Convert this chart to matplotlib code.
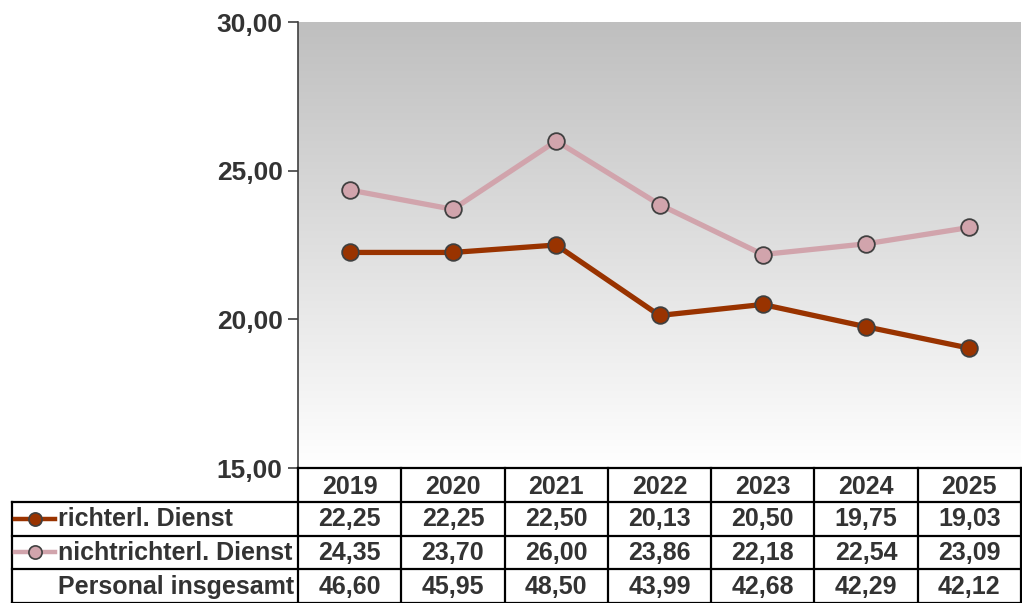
import numpy as np
import matplotlib
matplotlib.use("Agg")
import matplotlib.pyplot as plt
from matplotlib.lines import Line2D

# data
jahre = ["2019", "2020", "2021", "2022", "2023", "2024", "2025"]
richterl = [22.25, 22.25, 22.50, 20.13, 20.50, 19.75, 19.03]
nichtrichterl = [24.35, 23.70, 26.00, 23.86, 22.18, 22.54, 23.09]
insgesamt = [46.60, 45.95, 48.50, 43.99, 42.68, 42.29, 42.12]
zeilen = ["richterl. Dienst", "nichtrichterl. Dienst", "Personal insgesamt"]

c_richt = "#993300"
c_nicht = "#D1A4AC"
txt = "#333333"
plt.rcParams["font.family"] = ["Liberation Sans", "DejaVu Sans"]

W, H = 1022, 603
fig = plt.figure(figsize=(W / 100, H / 100), dpi=100)

left, right, top, bottom = 298 / W, 1021 / W, 1 - 22 / H, 1 - 468 / H
ax = fig.add_axes([left, bottom, right - left, top - bottom])
x = np.arange(len(jahre))

# grey gradient background (dark at top, white at bottom)
grad = np.linspace(0, 1, 256).reshape(-1, 1)
cols = np.array([191, 191, 191]) / 255 + grad * (np.array([255, 255, 255]) - np.array([191, 191, 191])) / 255
img = np.repeat(cols[:, None, :], 2, axis=1)
ax.imshow(img, extent=[-0.5, 6.5, 15, 30], aspect="auto", zorder=0, origin="upper")

ax.plot(x, nichtrichterl, color=c_nicht, lw=3.8, marker="o", ms=12,
        mfc=c_nicht, mec="#404040", mew=1.3, zorder=3)
ax.plot(x, richterl, color=c_richt, lw=3.8, marker="o", ms=12,
        mfc=c_richt, mec="#404040", mew=1.3, zorder=4)

ax.set_xlim(-0.5, 6.5)
ax.set_ylim(15, 30)
ax.set_yticks([15, 20, 25, 30])
ax.set_yticklabels([f"{v:.2f}".replace(".", ",") for v in [15, 20, 25, 30]],
                   fontsize=19, fontweight="bold", color=txt)
ax.tick_params(axis="y", length=7, width=1.2, color="#404040", pad=4)
ax.set_xticks([])
for s in ["top", "right", "bottom"]:
    ax.spines[s].set_visible(False)
ax.spines["left"].set_color("#404040")
ax.spines["left"].set_linewidth(1.2)

# data table below
tab = fig.add_axes([left, 0, right - left, bottom])
tab.set_xlim(-0.5, 6.5)
tab.set_ylim(4, 0)
tab.axis("off")
unit = (1021 - 298) / 7
xl = -0.5 - (298 - 12) / unit
kw = dict(color="black", lw=1.6, clip_on=False)

# horizontal lines
tab.plot([-0.5, 6.5], [0, 0], **kw)
for r in [1, 2, 3, 4]:
    tab.plot([xl, 6.5], [r, r], **kw)
# vertical lines
for c in range(8):
    tab.plot([c - 0.5, c - 0.5], [0, 4], **kw)
tab.plot([xl, xl], [1, 4], **kw)

for i, j in enumerate(jahre):
    tab.text(i, 0.55, j, ha="center", va="center", fontsize=18, fontweight="bold", color=txt)
for r, vals in enumerate([richterl, nichtrichterl, insgesamt]):
    for i, v in enumerate(vals):
        tab.text(i, r + 1.52, f"{v:.2f}".replace(".", ","), ha="center", va="center",
                 fontsize=18, fontweight="bold", color=txt)

xt = -0.5 - (298 - 58) / unit
for r, name in enumerate(zeilen):
    tab.text(xt, r + 1.52, name, ha="left", va="center", fontsize=18,
             fontweight="bold", color=txt, clip_on=False)

# legend keys
m0, m1 = -0.5 - (298 - 15) / unit, -0.5 - (298 - 55) / unit
for r, c in enumerate([c_richt, c_nicht]):
    tab.add_line(Line2D([m0, m1], [r + 1.5, r + 1.5], color=c, lw=3.2, clip_on=False))
    tab.add_line(Line2D([(m0 + m1) / 2], [r + 1.5], marker="o", ms=9.5, mfc=c,
                        mec="#404040", mew=1.2, clip_on=False))

fig.savefig("out.png", dpi=100)
